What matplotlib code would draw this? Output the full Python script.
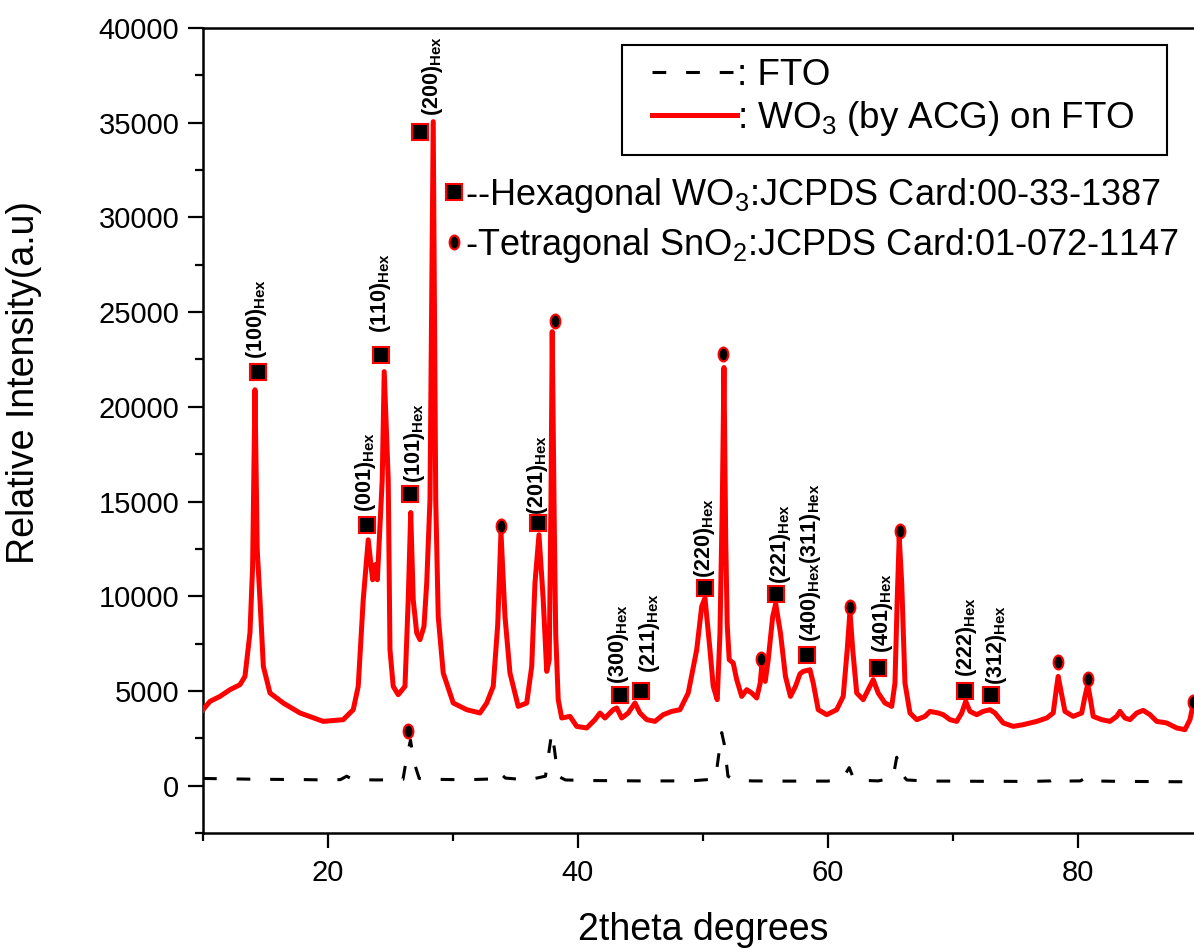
import matplotlib
matplotlib.use('Agg')
import matplotlib.pyplot as plt
from matplotlib.lines import Line2D
from matplotlib.patches import Rectangle
from matplotlib.path import Path
from matplotlib.transforms import Affine2D
from matplotlib.ticker import MultipleLocator

plt.rcParams['font.family'] = ['Liberation Sans', 'DejaVu Sans']
plt.rcParams['mathtext.default'] = 'regular'

# FTO substrate (dashed black)
fto_x = [10, 12, 14, 16, 18, 20, 21.0, 21.5, 22.0, 24, 26.0, 26.3, 26.6, 26.9, 27.3,
         29, 31, 33.0, 33.6, 34.2, 36, 37.4, 37.9, 38.1, 38.4, 39, 41, 43, 45, 47, 49,
         51.0, 51.5, 51.7, 52.0, 52.5, 54, 56, 58, 60, 61.2, 61.7, 62.1, 64, 65.2,
         65.5, 65.8, 66.3, 68, 70, 72, 74, 76, 77.8, 78.3, 78.8, 80.2, 80.6, 81, 83,
         85, 87, 90]
fto_y = [380, 360, 340, 330, 320, 300, 320, 500, 320, 300, 330, 1500, 2400, 1200, 380,
         330, 310, 350, 750, 400, 300, 500, 2800, 2000, 500, 300, 270, 260, 250, 250, 250,
         350, 2800, 2200, 500, 280, 250, 240, 240, 240, 400, 950, 300, 250, 400,
         1500, 700, 300, 240, 240, 230, 230, 220, 250, 400, 240, 250, 420, 250, 230,
         220, 210, 200]

# WO3 (by ACG) on FTO (red)
wo3_x = [10.0, 10.56, 11.36, 12.16, 12.96, 13.36, 13.76, 13.97, 14.16, 14.34, 14.56,
         14.83, 15.36, 16.42, 17.76, 19.62, 21.22, 22.02, 22.42, 22.82, 23.22, 23.57,
         23.76, 23.95, 24.34, 24.5, 24.82, 24.96, 25.22, 25.62, 26.16, 26.42, 26.62,
         26.82, 27.1, 27.36, 27.68, 27.9, 28.16, 28.42, 28.62, 28.82, 29.22, 30.02,
         31.1, 32.16, 32.7, 33.22, 33.58, 33.84, 34.16, 34.56, 35.22, 35.9, 36.3,
         36.56, 36.88, 37.22, 37.5, 37.7, 37.84, 37.94, 38.1, 38.22, 38.42, 38.7,
         39.36, 39.9, 40.7, 41.36, 41.76, 42.16, 42.82, 43.1, 43.5, 44.02, 44.56,
         44.96, 45.5, 46.16, 46.82, 47.5, 48.16, 48.82, 49.5, 49.9, 50.16, 50.56,
         50.82, 51.14, 51.36, 51.55, 51.68, 51.82, 51.94, 52.1, 52.42, 52.7, 53.1,
         53.5, 53.9, 54.3, 54.58, 54.7, 54.98, 55.22, 55.58, 55.82, 56.2, 56.6, 57.0,
         57.4, 57.76, 58.02, 58.56, 58.82, 59.22, 59.9, 60.7, 61.22, 61.54, 61.76,
         61.98, 62.3, 62.82, 63.22, 63.62, 64.02, 64.56, 65.1, 65.36, 65.54, 65.7,
         65.9, 66.16, 66.56, 67.1, 67.76, 68.16, 68.82, 69.22, 69.76, 70.3, 70.7,
         71.02, 71.36, 71.9, 72.42, 72.96, 73.36, 74.02, 74.82, 75.62, 76.7, 77.5,
         78.02, 78.3, 78.42, 78.62, 78.96, 79.62, 80.3, 80.56, 80.78, 80.96, 81.22,
         81.9, 82.56, 83.1, 83.36, 83.76, 84.16, 84.7, 85.22, 85.76, 86.3, 87.1,
         87.9, 88.56, 88.96, 89.18, 89.4, 89.7, 90.0]
wo3_y = [4010, 4450, 4713, 5066, 5330, 5768, 8074, 11570, 20900, 12454, 9815,
         6296, 4892, 4364, 3836, 3393, 3483, 4010, 5240, 9815, 12980, 10870,
         11662, 10870, 16150, 21860, 16150, 7177, 5240, 4802, 5240, 9815, 14420,
         9815, 8058, 7704, 8406, 10697, 15092, 35055, 15092, 8934, 5947, 4364,
         4010, 3836, 4364, 5240, 8500, 13400, 8934, 5947, 4185, 4364, 6296,
         10697, 13246, 9815, 6032, 6649, 15000, 23970, 14000, 8000, 4538, 3572,
         3657, 3129, 3045, 3483, 3836, 3572, 4010, 4100, 3572, 3836, 4364,
         3836, 3483, 3393, 3747, 3921, 4010, 4892, 7177, 9462, 9905, 7177,
         5240, 4538, 8058, 15092, 22074, 13000, 8500, 6649, 6473, 5594, 4712,
         5066, 4892, 4628, 5419, 6296, 5504, 6649, 8934, 9600, 8058, 5768, 4712,
         5240, 5900, 6032, 6121, 5419, 4010, 3747, 4010, 4712, 7177, 9200,
         7177, 4892, 4538, 5066, 5594, 4892, 4364, 4185, 5419, 9815, 13100,
         10697, 5419, 3836, 3483, 3657, 3921, 3836, 3747, 3483, 3393, 3836,
         4448, 3921, 3747, 3921, 4010, 3836, 3309, 3129, 3219, 3393, 3572,
         3836, 5240, 5768, 5066, 3921, 3657, 3836, 4712, 5330, 4712, 3657,
         3483, 3393, 3657, 3921, 3572, 3483, 3836, 3974, 3747, 3393, 3309,
         3045, 2955, 3483, 4185, 4400, 3400, 3100]

# hexagonal WO3 reflections (square markers)
hex_x = [14.4, 23.12, 24.24, 26.6, 27.36, 36.78, 43.36, 45.04, 50.16, 55.84, 58.3,
         64.0, 70.96, 73.04]
hex_y = [21847, 13773, 22744, 15382, 34495, 13852, 4765, 4976, 10433, 10132, 6913,
         6211, 5013, 4802]
hex_labels = ['(100)', '(001)', '(110)', '(101)', '(200)', '(201)', '(300)', '(211)',
              '(220)', '(221)', '(400)$_{Hex}$(311)', '(401)', '(222)', '(312)']

# tetragonal SnO2 reflections (ellipse markers)
sno2_x = [26.42, 33.82, 38.16, 51.58, 54.62, 61.76, 65.76, 78.42, 80.78, 89.2]
sno2_y = [2865, 13683, 24538, 22797, 6702, 9430, 13456, 6528, 5646, 4433]

# label offsets from the square (points)
label_dx = [-1, -1, 0, 3, 9, 0, -1, 6, 0, 3, 3, 3, 1, 4]
label_dy = [9, 9, 16, 8, 12, 6, 8, 13, 7, 7, 9, 11, 10, 7]

fig = plt.figure(figsize=(11.94, 9.48), dpi=100)
ax = fig.add_axes([0.1700, 0.1213, 0.8375, 0.8492])

ax.plot(fto_x, fto_y, color='black', lw=2.2, linestyle=(0, (4.5, 6.5)), zorder=2)
ax.plot(wo3_x, wo3_y, color='red', lw=3.6, zorder=3)

ellipse = Path.unit_circle().transformed(Affine2D().scale(0.7, 1.0))
ax.plot(hex_x, hex_y, 's', ms=12, mfc='black', mec='red', mew=1.5, zorder=4)
ax.plot(sno2_x, sno2_y, ls='none', marker=ellipse, ms=10, mfc='black', mec='red',
        mew=1.5, zorder=4)

for i in range(len(hex_x)):
    ax.annotate(hex_labels[i] + '$_{Hex}$', (hex_x[i], hex_y[i]),
                xytext=(label_dx[i], label_dy[i]), textcoords='offset points',
                rotation=90, ha='center', va='bottom', fontsize=15.5,
                fontweight='bold', family=['Liberation Sans Narrow', 'Liberation Sans'])

ax.set_xlim(10, 90)
ax.set_ylim(-2500, 40000)
ax.xaxis.set_major_locator(MultipleLocator(20))
ax.xaxis.set_minor_locator(MultipleLocator(10))
ax.yaxis.set_major_locator(MultipleLocator(5000))
ax.yaxis.set_minor_locator(MultipleLocator(2500))
ax.tick_params(which='major', direction='out', length=11, width=1.6, labelsize=21)
ax.tick_params(which='minor', direction='out', length=6, width=1.6)
ax.tick_params(axis='x', pad=8)
ax.tick_params(axis='y', pad=6)
for s in ax.spines.values():
    s.set_linewidth(1.8)

ax.set_xlabel('2theta degrees', fontsize=27)
ax.set_ylabel('Relative Intensity(a.u)', fontsize=27)
ax.xaxis.set_label_coords(0.5, -0.098)
ax.yaxis.set_label_coords(-0.161, 0.56)

# legend box
fig.patches.append(Rectangle((622 / 1194, 1 - 155 / 948), 545 / 1194, 110 / 948,
                             transform=fig.transFigure, fill=False, edgecolor='black',
                             lw=1.5, zorder=5))
leg_handles = [Line2D([], [], color='black', lw=2.2, linestyle=(0, (4.5, 6.5))),
               Line2D([], [], color='red', lw=3.6)]
leg = ax.legend(leg_handles, [': FTO', ': WO$_3$ (by ACG) on FTO'], loc='upper left',
                bbox_to_anchor=(652 / 1194, 1 - 58 / 948), bbox_transform=fig.transFigure,
                fontsize=26.5, frameon=False, handlelength=2.3, handletextpad=0.0,
                borderpad=0, labelspacing=0.15, borderaxespad=0)
ax.add_artist(leg)

# phase key
key_handles = [Line2D([], [], ls='none', marker='s', ms=11, mfc='black', mec='red', mew=1.5),
               Line2D([], [], ls='none', marker=ellipse, ms=10, mfc='black', mec='red', mew=1.5)]
ax.legend(key_handles, ['--Hexagonal WO$_3$:JCPDS Card:00-33-1387',
                        '-Tetragonal SnO$_2$:JCPDS Card:01-072-1147'],
          loc='upper left', bbox_to_anchor=(447 / 1194, 1 - 176 / 948),
          bbox_transform=fig.transFigure, fontsize=26, frameon=False,
          handlelength=0.4, handletextpad=0.1, labelspacing=0.3, borderaxespad=0,
          borderpad=0)

fig.savefig('out.png', dpi=100)
